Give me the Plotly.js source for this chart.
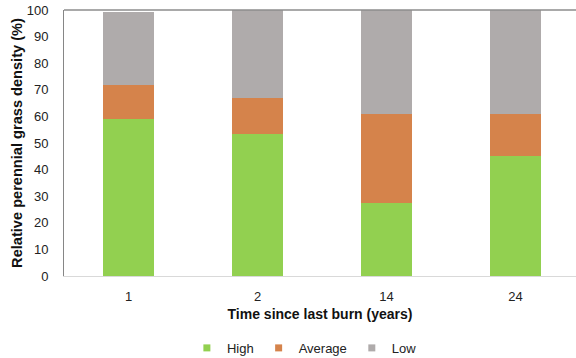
<!DOCTYPE html>
<html>
<head>
<meta charset="utf-8">
<script src="https://cdn.plot.ly/plotly-3.0.1.min.js"></script>
<style>html,body{margin:0;padding:0;background:#fff;}#chart{width:576px;height:358px;}</style>
</head>
<body>
<div id="chart"></div>
<script>
const categories = ['1', '2', '14', '24'];
const high = [59.2, 53.4, 27.3, 45.1];
const average = [12.6, 13.4, 33.6, 15.8];
const low = [27.3, 33.2, 39.1, 39.1];

const seriesNames = ['High', 'Average', 'Low'];
const seriesValues = [high, average, low];
const colors = ['#92D050', '#D5834B', '#AFABAB'];

const traces = [];
seriesValues.forEach((vals, i) => {
  traces.push({
    type: 'bar', x: categories, y: vals, name: seriesNames[i],
    marker: {color: colors[i]}, showlegend: false, hoverinfo: 'y'
  });
});
seriesNames.forEach((n, i) => {
  traces.push({
    type: 'scatter', mode: 'markers', x: [null], y: [null], name: n,
    marker: {symbol: 'square', size: 7, color: colors[i]}, showlegend: true
  });
});

const family = '"Liberation Sans", Arial, sans-serif';
const layout = {
  width: 576, height: 358,
  margin: {l: 64, r: 0, t: 10, b: 82},
  paper_bgcolor: '#fff', plot_bgcolor: '#fff',
  barmode: 'stack', bargap: 0.6,
  font: {family: family, size: 13, color: '#222'},
  showlegend: true,
  legend: {orientation: 'h', x: 0.24, xanchor: 'left', yref: 'container', y: 0.07, yanchor: 'top',
           font: {family: family, size: 13, color: '#222'}, itemwidth: 30, traceorder: 'normal'},
  xaxis: {
    type: 'category', range: [-0.5, 3.469], showline: true, linecolor: '#D9D9D9', linewidth: 1,
    ticks: '', showgrid: false, zeroline: false, ticklabelstandoff: 8, automargin: false,
    tickfont: {family: family, size: 13, color: '#222'},
    title: {text: '<b>Time since last burn (years)</b>', font: {family: family, size: 14, color: '#111'}, standoff: 6}
  },
  yaxis: {
    range: [0, 100], dtick: 10, showline: true, linecolor: '#868686', linewidth: 1,
    ticks: '', showgrid: false, zeroline: false, ticklabelstandoff: 12, automargin: false,
    tickfont: {family: family, size: 13, color: '#222'},
    title: {text: '<b>Relative perennial grass density (%)</b>', font: {family: family, size: 14.6, color: '#111'}, standoff: 0}
  },
  shapes: [{type: 'line', xref: 'paper', yref: 'paper', x0: 0, x1: 1, y0: 1, y1: 1,
            line: {color: '#8C8C8C', width: 1.5}}]
};
Plotly.newPlot('chart', traces, layout, {displayModeBar: false, staticPlot: true});
</script>
</body>
</html>
